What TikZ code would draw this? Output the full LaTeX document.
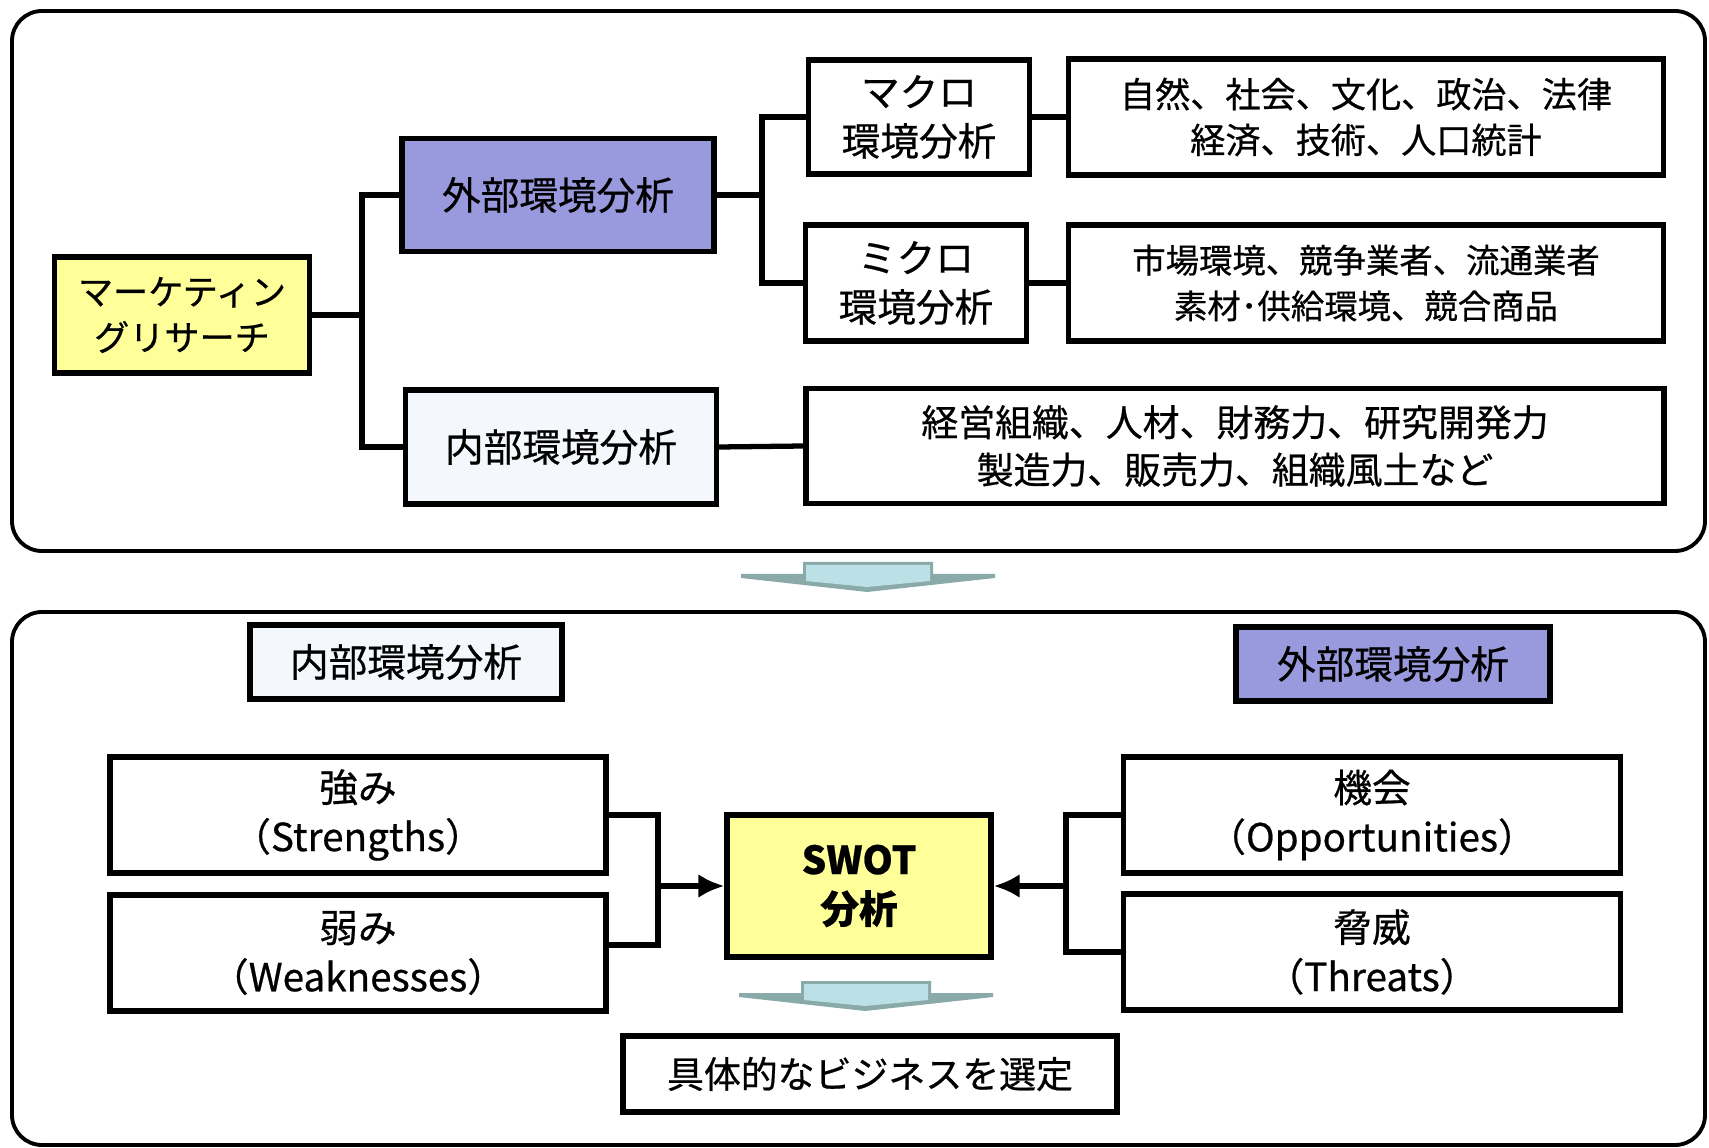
\documentclass[tikz,border=0pt]{standalone}
\usepackage{fontspec}
\newfontfamily\jpfont[RawFeature={embolden=0.6}]{Noto Sans CJK JP}
\usetikzlibrary{arrows.meta}

\definecolor{mryellow}{RGB}{255,255,153}
\definecolor{extpurple}{RGB}{153,153,221}
\definecolor{intwhite}{RGB}{244,247,251}
\definecolor{arrowface}{RGB}{187,225,231}
\definecolor{arrowside}{RGB}{138,170,170}

\tikzset{
  box/.style={draw, line width=1.5pt, align=center, inner sep=0pt,
    font=\jpfont\fontsize{11}{14}\selectfont},
  smallbox/.style={box, font=\jpfont\fontsize{10}{13}\selectfont},
  link/.style={line width=1.5pt},
  linkarrow/.style={link, -{Latex[length=2.6mm,width=2.4mm]}},
  frame/.style={draw, line width=1.1pt, rounded corners=3mm},
}

\begin{document}
\begin{tikzpicture}[x=0.1mm,y=-0.1mm]
\useasboundingbox (0,0) rectangle (1709,1148);

% frames
\draw[frame] (12,11) rectangle (1705,551);
\draw[frame] (12,612) rectangle (1705,1145);

% upper part
\node[smallbox, fill=mryellow, minimum width=25.5mm, minimum height=11.6mm] (mr) at (182,315) {マーケティン\\グリサーチ};
\node[box, fill=extpurple, minimum width=31.2mm, minimum height=11.3mm] (ext) at (558,195) {外部環境分析};
\node[box, fill=intwhite, minimum width=31.1mm, minimum height=11.4mm] (int) at (561,447) {内部環境分析};
\node[box, minimum width=22.1mm, minimum height=11.4mm] (macro) at (919,117) {マクロ\\環境分析};
\node[box, minimum width=22.1mm, minimum height=11.6mm] (micro) at (916,283) {ミクロ\\環境分析};
\node[smallbox, minimum width=59.5mm, minimum height=11.6mm] (macrod) at (1366,117) {自然、社会、文化、政治、法律\\経済、技術、人口統計};
\node[box, minimum width=59.5mm, minimum height=11.6mm, font=\jpfont\fontsize{9.5}{13}\selectfont] (microd) at (1366,283) {市場環境、競争業者、流通業者\\素材･供給環境、競合商品};
\node[box, minimum width=85.8mm, minimum height=11.5mm, font=\jpfont\fontsize{10.5}{13.5}\selectfont] (intd) at (1235,446) {経営組織、人材、財務力、研究開発力\\製造力、販売力、組織風土など};

\coordinate (j1) at (362,315);
\coordinate (j2) at (762,195);
\draw[link] (mr.east) -- (j1) |- (ext.west);
\draw[link] (j1) |- (int.west);
\draw[link] (ext.east) -- (j2) |- (macro.west);
\draw[link] (j2) |- (micro.west);
\draw[link] (macro.east) -- (macrod.west);
\draw[link] (micro.east) -- (microd.west);
\draw[link] (int.east) -- (intd.west);

% down arrows
\foreach \dx/\dy in {0/0,-2/419}{
  \fill[arrowside] (741+\dx,574+\dy) -- (803+\dx,574+\dy) -- (803+\dx,562+\dy) -- (933+\dx,562+\dy)
    -- (933+\dx,574+\dy) -- (995+\dx,574+\dy) -- (995+\dx,578+\dy) -- (867+\dx,592+\dy)
    -- (741+\dx,578+\dy) -- cycle;
  \fill[arrowface] (806+\dx,565+\dy) -- (930+\dx,565+\dy) -- (930+\dx,581+\dy)
    -- (867+\dx,587+\dy) -- (806+\dx,581+\dy) -- cycle;
}

% lower part
\node[box, fill=intwhite, minimum width=31.2mm, minimum height=7.4mm] (int2) at (406,662) {内部環境分析};
\node[box, fill=extpurple, minimum width=31.4mm, minimum height=7.4mm] (ext2) at (1393,664) {外部環境分析};
\node[box, minimum width=49.6mm, minimum height=11.6mm] (str) at (358,815) {強み\\（Strengths）};
\node[box, minimum width=49.6mm, minimum height=11.6mm] (weak) at (358,953) {弱み\\（Weaknesses）};
\node[box, minimum width=49.7mm, minimum height=11.6mm] (opp) at (1372,815) {機会\\（Opportunities）};
\node[box, minimum width=49.7mm, minimum height=11.6mm] (thr) at (1372,952) {脅威\\（Threats）};
\node[box, fill=mryellow, minimum width=26.4mm, minimum height=14.2mm, font=\jpfont\bfseries\fontsize{11}{14}\selectfont] (swot) at (859,886) {SWOT\\分析};
\node[box, minimum width=49.4mm, minimum height=7.6mm, font=\jpfont\fontsize{10.5}{13}\selectfont] (biz) at (870,1074) {具体的なビジネスを選定};

\coordinate (jl) at (658,886);
\coordinate (jr) at (1066,886);
\draw[link] (str.east) -| (jl) |- ([yshift=0.8mm]weak.east);
\draw[link] (opp.west) -| (jr) |- (thr.west);
\draw[linkarrow] (jl) -- (swot.west);
\draw[linkarrow] (jr) -- (swot.east);
\end{tikzpicture}
\end{document}
